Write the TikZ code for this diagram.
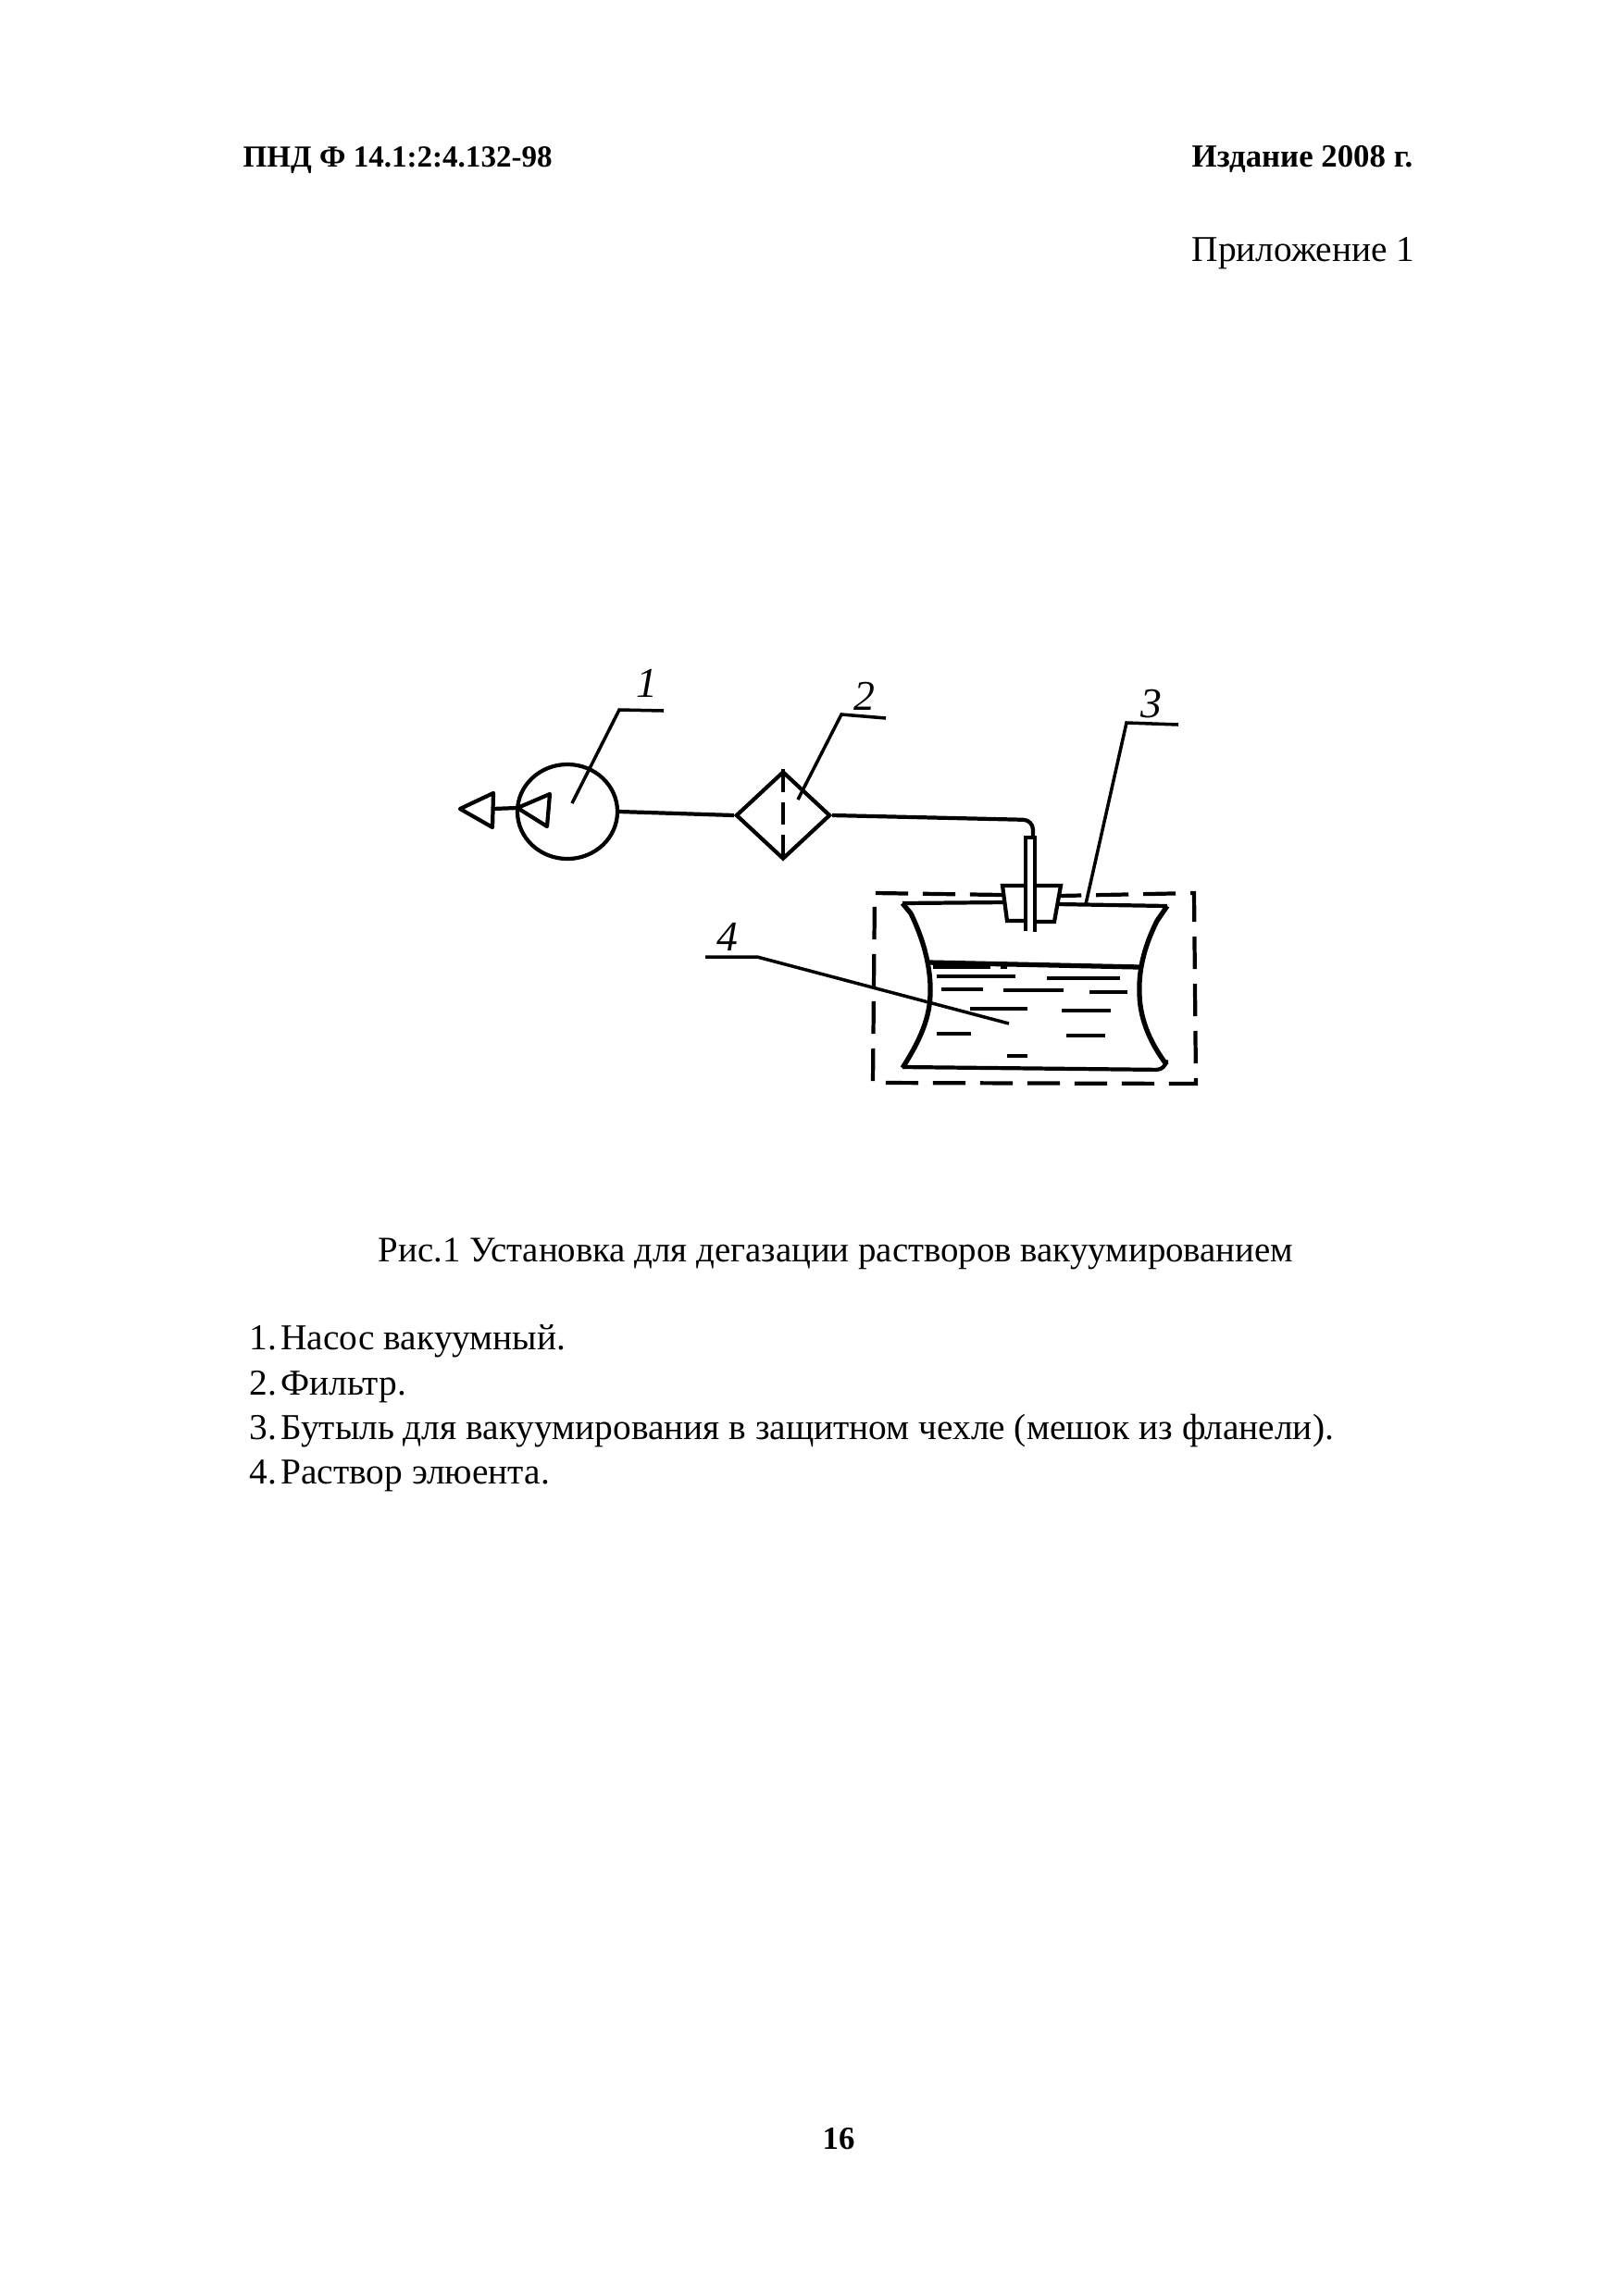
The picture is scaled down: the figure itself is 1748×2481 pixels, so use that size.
\documentclass[tikz,border=0pt]{standalone}
\usepackage{fontspec}
\setmainfont{Liberation Serif}
\usepackage{tikz}
\usetikzlibrary{shapes.geometric}
\tikzstyle{line}=[line width=1.2pt]
\tikzstyle{thin line}=[line width=1pt]
\tikzstyle{wall}=[line width=1.5pt]
\tikzstyle{cover}=[line width=1.2pt, dash pattern=on 10pt off 4.5pt]
\tikzstyle{wave}=[line width=1pt]
\tikzstyle{num}=[inner sep=0pt, font=\fontsize{13}{13}\selectfont\itshape]
\tikzstyle{pagetext}=[anchor=base west, inner sep=0pt, font=\fontsize{11.2}{13}\selectfont]
\tikzstyle{headtext}=[anchor=base west, inner sep=0pt, font=\fontsize{9.9}{12}\selectfont\bfseries]

\begin{document}
\begin{tikzpicture}[x=0.01cm, y=-0.01cm]
        \useasboundingbox (0, 0) rectangle (1748, 2481);
        % page text
        \node[headtext, font=\fontsize{9.4}{12}\selectfont\bfseries] (head) at (262, 180) {ПНД Ф 14.1:2:4.132-98};
        \node[headtext] (edition) at (1287, 180) {Издание 2008 г.};
        \node[pagetext] (appendix) at (1287, 282) {Приложение 1};
        \node[pagetext, font=\fontsize{11.05}{13}\selectfont] (caption) at (408, 1363) {Рис.1 Установка для дегазации растворов вакуумированием};
        \node[pagetext] (item1) at (269, 1458) {1.\kern-1.6pt\ Насос вакуумный.};
        \node[pagetext] (item2) at (269, 1507) {2.\kern-1.6pt\ Фильтр.};
        \node[pagetext] (item3) at (269, 1555) {3.\kern-1.6pt\ Бутыль для вакуумирования в защитном чехле (мешок из фланели).};
        \node[pagetext] (item4) at (269, 1603) {4.\kern-1.6pt\ Раствор элюента.};
        \node[headtext] (pagenum) at (888, 2322) {16};

        % pump and filter
        \node[draw, line, ellipse, inner sep=0pt, minimum width=1.08cm, minimum height=1.02cm] (pump) at (613, 877) {};
        \node[draw, line, diamond, inner sep=0pt, minimum width=1.02cm, minimum height=0.95cm] (filter) at (846, 881) {};
        \draw[line] (pump.east) -- (filter.west);
        \draw[line, dash pattern=on 7pt off 3pt] (filter.north) -- (filter.south);
        \coordinate (outtip) at (497, 874);
        \coordinate (intip) at (559, 873);
        \draw[line, line join=round] (outtip) -- (533, 857) -- (532, 894) -- cycle;
        \draw[line, line join=round] (intip) -- (594, 858) -- (591, 893) -- cycle;
        \draw[line] (532, 874) -- (intip);

        % tube and stopper
        \coordinate (tubetop) at (1116, 905);
        \draw[line, rounded corners=3pt] (filter.east) -- (1116, 886) -- (tubetop);
        \draw[line] (1108, 1006) -- (1108, 905) -- (1118, 905) -- (1118, 1007);
        \draw[line] (1108, 957) -- (1083, 957) -- (1088, 995) -- (1108, 995);
        \draw[line] (1118, 957) -- (1146, 957) -- (1139, 996) -- (1118, 996);

        % cover
        \draw[cover] (1083, 967) -- (945, 965) -- (943, 1170) -- (1292, 1171) -- (1290, 965) -- (1144, 968);

        % bottle
        \draw[line] (1086, 975) -- (975, 976);
        \draw[line] (1142, 977) -- (1261, 979);
        \draw[wall] (975, 976) -- (984, 987) .. controls (1000, 1020) and (1006, 1050) .. (1005, 1075)
            .. controls (1004, 1105) and (990, 1130) .. (975, 1154);
        \draw[wall] (1261, 979) -- (1250, 995) .. controls (1235, 1025) and (1230, 1050) .. (1231, 1075)
            .. controls (1232, 1105) and (1245, 1130) .. (1260, 1150);
        \draw[line, rounded corners=3pt] (975, 1153) -- (1260, 1156) -- (1260, 1150);
        \draw[wall] (1003, 1040) -- (1231, 1045);
        \foreach \xa/\xb/\yc in {1008/1070/1045, 1081/1088/1045, 1012/1097/1055, 1131/1210/1057, 1017/1062/1069, 1084/1149/1070,
            1177/1218/1072, 1048/1110/1090, 1147/1200/1092, 1012/1049/1117, 1152/1194/1119, 1088/1110/1141}
            \draw[wave] (\xa, \yc) -- (\xb, \yc);

        % leaders
        \node[num] (n1) at (699, 738) {1};
        \node[num] (n2) at (934, 752) {2};
        \node[num] (n3) at (1244, 761) {3};
        \node[num] (n4) at (786, 1012) {4};
        \coordinate (lead1) at (618, 868);
        \coordinate (lead2) at (862, 864);
        \coordinate (lead3) at (1173, 977);
        \coordinate (lead4) at (1090, 1106);
        \draw[thin line] (lead1) -- (669, 767) -- (717, 768);
        \draw[thin line] (lead2) -- (909, 772) -- (957, 776);
        \draw[thin line] (lead3) -- (1217, 781) -- (1273, 783);
        \draw[thin line] (lead4) -- (818, 1034) -- (762, 1034);
    \end{tikzpicture}
\end{document}
